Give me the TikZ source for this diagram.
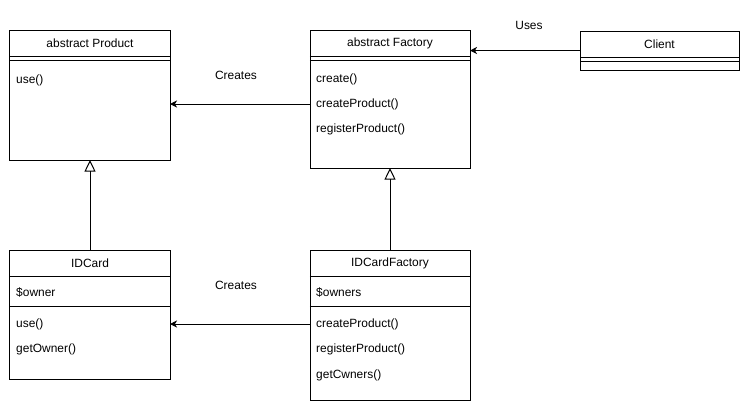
\documentclass[tikz,border=0pt]{standalone}
\usepackage{fontspec}
\setmainfont{Liberation Sans}
\usetikzlibrary{arrows.meta, calc}
\tikzstyle{arrow}     = [line width=0.85pt, -{Stealth[length=6pt, width=6pt, inset=1.8pt]}]

\begin{document}
\begin{tikzpicture}[x=0.03cm, y=-0.03cm]

\tikzset{
  klass/.style={rectangle, draw=black, line width=0.85pt,
    minimum width=4.8cm, inner sep=0pt, outer sep=0pt},
  titel/.style={font=\fontsize{10.2}{12}\selectfont, inner sep=0pt},
  eintrag/.style={font=\fontsize{10.2}{12}\selectfont, inner sep=0pt, anchor=west},
  sep/.style={line width=0.85pt},
  erbt/.style={line width=0.85pt, -{Triangle[open, length=10pt, width=9.5pt]}}
}

\useasboundingbox (0,0) rectangle (752,411);

% ---- CLASS BOXES ----
\node (prod)   [klass, minimum height=3.9cm]  at ( 90, 95)   {};
\node (fac)    [klass, minimum height=4.14cm] at (390, 99)   {};
\node (client) [klass, minimum height=1.17cm, minimum width=4.77cm] at (659.5, 50.5) {};
\node (card)   [klass, minimum height=3.87cm] at ( 90, 314.5) {};
\node (cfac)   [klass, minimum height=4.5cm]  at (390, 325)   {};

% ---- COMPARTMENTS ----
\draw[sep] ($(prod.north west)+(0,26)$) -- ($(prod.north east)+(0,26)$);
\draw[sep] ($(prod.north west)+(0,30)$) -- ($(prod.north east)+(0,30)$);
\draw[sep] ($(fac.north west)+(0,26)$) -- ($(fac.north east)+(0,26)$);
\draw[sep] ($(fac.north west)+(0,30)$) -- ($(fac.north east)+(0,30)$);
\draw[sep] ($(client.north west)+(0,26)$) -- ($(client.north east)+(0,26)$);
\draw[sep] ($(client.north west)+(0,30)$) -- ($(client.north east)+(0,30)$);
\draw[sep] ($(card.north west)+(0,26)$) -- ($(card.north east)+(0,26)$);
\draw[sep] ($(card.north west)+(0,56)$) -- ($(card.north east)+(0,56)$);
\draw[sep] ($(cfac.north west)+(0,26)$) -- ($(cfac.north east)+(0,26)$);
\draw[sep] ($(cfac.north west)+(0,56)$) -- ($(cfac.north east)+(0,56)$);

% ---- TITLES ----
\node (tprod)   [titel] at ($(prod.north)+(0,13)$)   {abstract Product};
\node (tfac)    [titel] at ($(fac.north)+(0,13)$)    {abstract Factory};
\node (tclient) [titel] at ($(client.north)+(0,13)$) {Client};
\node (tcard)   [titel] at ($(card.north)+(0,13)$)   {IDCard};
\node (tcfac)   [titel] at ($(cfac.north)+(0,13)$)   {IDCardFactory};

% ---- MEMBERS ----
\node (puse)    [eintrag] at (16, 80)   {use()};
\node (fcreate) [eintrag] at (316, 79)  {create()};
\node (fcp)     [eintrag] at (316, 104) {createProduct()};
\node (frp)     [eintrag] at (316, 129) {registerProduct()};
\node (cowner)  [eintrag] at (16, 292)  {\$owner};
\node (cuse)    [eintrag] at (16, 324)  {use()};
\node (cget)    [eintrag] at (16, 349)  {getOwner()};
\node (cfown)   [eintrag] at (316, 292) {\$owners};
\node (cfcp)    [eintrag] at (316, 324) {createProduct()};
\node (cfrp)    [eintrag] at (316, 349) {registerProduct()};
\node (cfget)   [eintrag] at (316, 375) {getCwners()};

% ---- LABELS ----
\node (luses)  [titel] at (529, 25)  {Uses};
\node (lcr1)   [titel] at (236, 75)  {Creates};
\node (lcr2)   [titel] at (236, 285) {Creates};

% ---- ASSOCIATIONS ----
\draw[arrow] (client.west) -- (fac.east |- client.west);
\draw[arrow] (fac.west |- fcp)   -- (prod.east |- fcp);
\draw[arrow] (cfac.west |- cfcp) -- (card.east |- cfcp);

% ---- INHERITANCE ----
\draw[erbt] (card.north) -- (prod.south);
\draw[erbt] (cfac.north) -- (fac.south);

\end{tikzpicture}
\end{document}
